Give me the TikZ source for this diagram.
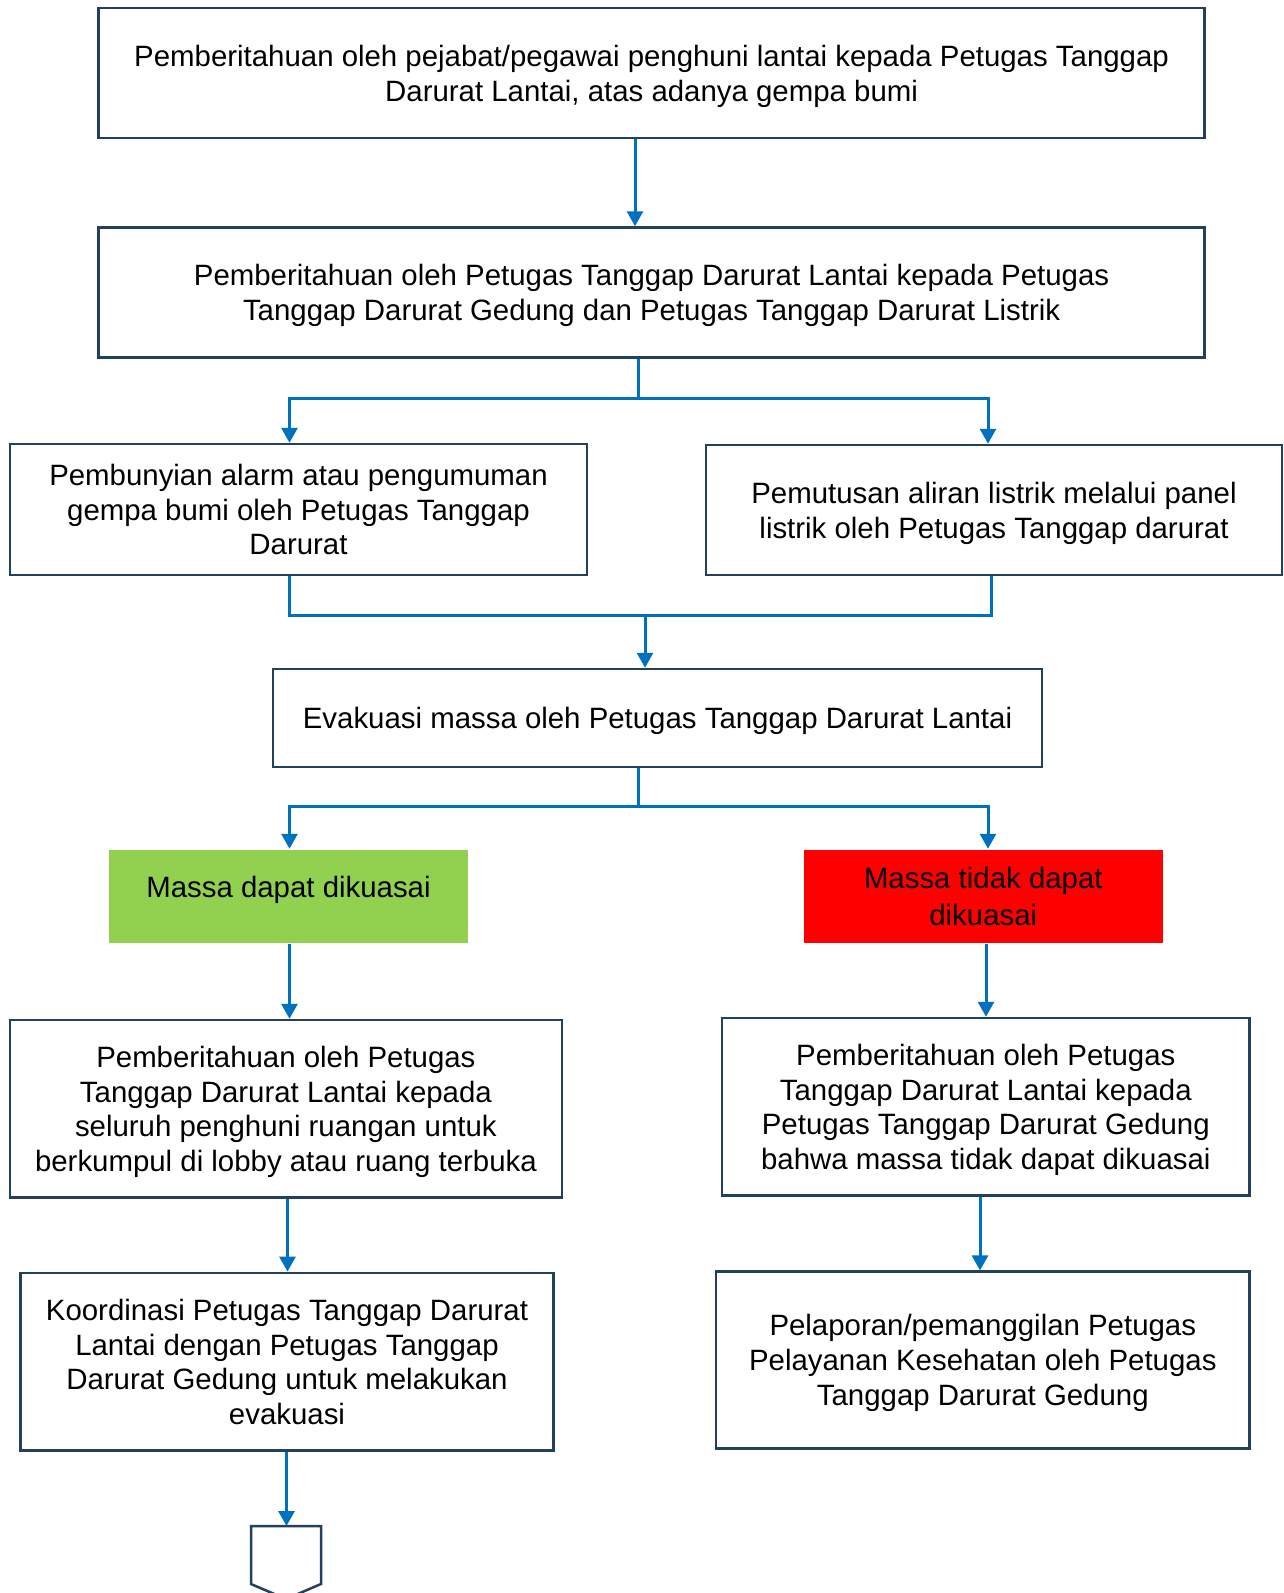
\documentclass[tikz,border=0pt]{standalone}
\usepackage{fontspec}
\setmainfont{Liberation Sans}
\usepackage{xcolor}
\usetikzlibrary{arrows.meta, positioning, calc}

\definecolor{boxline}{HTML}{24405F}
\definecolor{flowblue}{HTML}{0070C0}
\definecolor{okgreen}{HTML}{92D050}
\definecolor{badred}{HTML}{FF0000}

\begin{document}
\begin{tikzpicture}[x=1pt, y=-1pt,
  box/.style={draw=boxline, line width=2.5pt, fill=white, align=center,
    inner sep=0pt, text depth=0pt, font=\fontsize{29.4}{34.7}\selectfont},
  status/.style={box, draw=none, text depth=, },
  line/.style={draw=flowblue, line width=3pt},
  link/.style={line, -{Triangle[width=16pt,length=15pt]}}]
  \useasboundingbox (0,0) rectangle (1283,1593);

  % Main boxes
  \node[box, minimum width=1106pt, minimum height=130pt] (notif) at (651.6,73)
    {Pemberitahuan oleh pejabat/pegawai penghuni lantai kepada Petugas Tanggap\\Darurat Lantai, atas adanya gempa bumi};
  \node[box, minimum width=1106pt, minimum height=130pt] (relay) at (651.6,292.5)
    {Pemberitahuan oleh Petugas Tanggap Darurat Lantai kepada Petugas\\Tanggap Darurat Gedung dan Petugas Tanggap Darurat Listrik};
  \node[box, minimum width=577pt, minimum height=131pt] (alarm) at (298.5,509.5)
    {Pembunyian alarm atau pengumuman\\gempa bumi oleh Petugas Tanggap\\Darurat};
  \node[box, minimum width=576pt, minimum height=130pt] (power) at (994,510)
    {Pemutusan aliran listrik melalui panel\\listrik oleh Petugas Tanggap darurat};
  \node[box, minimum width=769pt, minimum height=98pt] (evac) at (657.5,718)
    {Evakuasi massa oleh Petugas Tanggap Darurat Lantai};

  % Outcomes
  \node[status, fill=okgreen, minimum width=359.6pt, minimum height=92.6pt] (ok) at (288.5,896.3)
    {\raisebox{6pt}[\height][\depth]{Massa dapat dikuasai}};
  \node[status, fill=badred, minimum width=359.5pt, minimum height=92.6pt] (bad) at (983.3,896.3)
    {Massa tidak dapat\\[2pt]dikuasai};

  % Left branch
  \node[box, minimum width=551.7pt, minimum height=177.6pt] (gather) at (285.9,1108.8)
    {Pemberitahuan oleh Petugas\\Tanggap Darurat Lantai kepada\\seluruh penghuni ruangan untuk\\berkumpul di lobby atau ruang terbuka};
  \node[box, minimum width=533.3pt, minimum height=177.8pt] (coord) at (287,1361.7)
    {Koordinasi Petugas Tanggap Darurat\\Lantai dengan Petugas Tanggap\\Darurat Gedung untuk melakukan\\evakuasi};

  % Right branch
  \node[box, minimum width=527.5pt, minimum height=177.6pt] (inform) at (985.8,1106.8)
    {Pemberitahuan oleh Petugas\\Tanggap Darurat Lantai kepada\\Petugas Tanggap Darurat Gedung\\bahwa massa tidak dapat dikuasai};
  \node[box, minimum width=533.5pt, minimum height=176.7pt] (report) at (982.8,1360)
    {Pelaporan/pemanggilan Petugas\\Pelayanan Kesehatan oleh Petugas\\Tanggap Darurat Gedung};

  % Off-page connector
  \coordinate (page) at (286.5,1526);
  \draw[boxline, line width=2.5pt, line join=miter]
    (251,1526) -- (321,1526) -- (321,1584) -- (286,1599) -- (251,1584) -- cycle;

  % Forks and merges
  \coordinate (fa) at (638,398);
  \coordinate (fb) at (645,615.6);
  \coordinate (fc) at (638,806.5);

  % Arrows
  \draw[link] ([xshift=-16.6pt]notif.south) -- ([xshift=-16.6pt]relay.north);
  \draw[line] (relay.south -| fa) -- (fa);
  \draw[link] (fa) -| ([xshift=-9pt]alarm.north);
  \draw[link] (fa) -| ([xshift=-6pt]power.north);
  \draw[line] ([xshift=-9pt]alarm.south) |- (fb);
  \draw[line] ([xshift=-3pt]power.south) |- (fb);
  \draw[link] (fb) -- (fb |- evac.north);
  \draw[line] (evac.south -| fc) -- (fc);
  \draw[link] (fc) -| ([xshift=1pt]ok.north);
  \draw[link] (fc) -| ([xshift=4.7pt]bad.north);
  \draw[link] ([xshift=1pt]ok.south) -- ([xshift=3.6pt]gather.north);
  \draw[link] ([xshift=2.7pt]bad.south) -- ([xshift=0.2pt]inform.north);
  \draw[link] ([xshift=1.6pt]gather.south) -- ([xshift=0.5pt]coord.north);
  \draw[link] ([xshift=-5.8pt]inform.south) -- ([xshift=-2.8pt]report.north);
  \draw[link] ([xshift=-0.5pt]coord.south) -- (page);
\end{tikzpicture}
\end{document}
